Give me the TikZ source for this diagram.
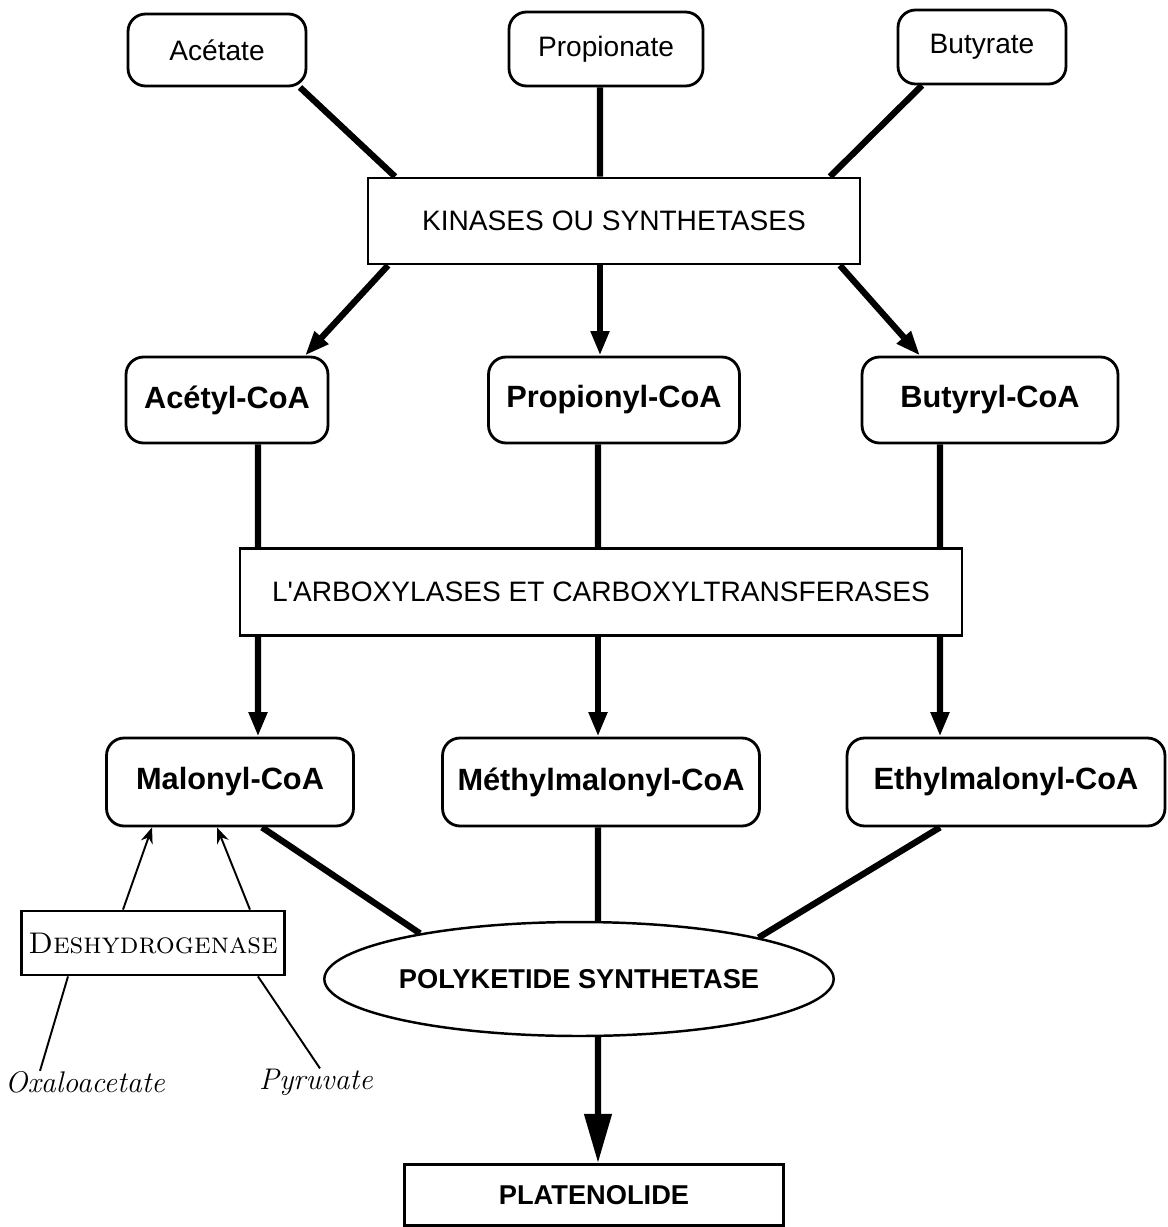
\documentclass[tikz,border=0pt]{standalone}
\usepackage{fontspec}
\newfontfamily\plotfont{Liberation Sans}
\usetikzlibrary{arrows.meta,shapes.geometric}

\begin{document}
\begin{tikzpicture}[x=0.02cm, y=-0.02cm, inner sep=0pt,
    sub/.style = {draw, rounded corners=0.35cm, line width=1.6pt, font=\plotfont\fontsize{16}{19}\selectfont},
    coa/.style = {sub, font=\plotfont\bfseries\fontsize{17.5}{21}\selectfont},
    enz/.style = {draw, line width=1.6pt, font=\plotfont\fontsize{16}{19}\selectfont},
    pks/.style = {draw, ellipse, line width=1.4pt, font=\plotfont\bfseries\fontsize{15.5}{19}\selectfont},
    handtext/.style = {font=\fontsize{17}{20}\selectfont\itshape},
    link/.style = {line width=3.6pt},
    flow/.style = {link, -{Triangle[length=14pt, width=10pt]}},
    bigflow/.style = {link, -{Triangle[length=28pt, width=15pt]}},
    handline/.style = {line width=1.1pt},
    handarrow/.style = {handline, -{Stealth[length=9pt, width=7pt]}}]
                \useasboundingbox (0,0) rectangle (1167,1227);
                \node[sub, minimum width=3.56cm, minimum height=1.44cm] (ace) at (217,50) {Acétate};
                \node[sub, minimum width=3.88cm, minimum height=1.48cm] (pro) at (606,49) {Propionate};
                \node[sub, minimum width=3.36cm, minimum height=1.48cm] (but) at (982,47) {Butyrate};
                \node[enz, minimum width=9.84cm, minimum height=1.72cm] (kin) at (614,221) {KINASES OU SYNTHETASES};
                \node[coa, minimum width=4.04cm, minimum height=1.72cm] (acecoa) at (227,400) {Acétyl-CoA};
                \node[coa, minimum width=5.02cm, minimum height=1.72cm] (procoa) at (614,400) {Propionyl-CoA};
                \node[coa, minimum width=5.12cm, minimum height=1.72cm] (butcoa) at (990,400) {Butyryl-CoA};
                \node[enz, minimum width=14.44cm, minimum height=1.74cm] (carb) at (601,592) {L'ARBOXYLASES ET CARBOXYLTRANSFERASES};
                \node[coa, minimum width=4.94cm, minimum height=1.76cm] (mal) at (230,782) {Malonyl-CoA};
                \node[coa, minimum width=6.34cm, minimum height=1.76cm] (mmal) at (601,782) {Méthylmalonyl-CoA};
                \node[coa, minimum width=6.36cm, minimum height=1.76cm] (emal) at (1006,782) {Ethylmalonyl-CoA};
                \node[enz, font=\fontsize{17}{20}\selectfont, minimum width=5.26cm, minimum height=1.28cm] (deh) at (153,943) {\textsc{Deshydrogenase}};
                \node[pks, minimum width=8.84cm, minimum height=2.28cm] (poly) at (579,979) {POLYKETIDE SYNTHETASE};
                \node[enz, font=\plotfont\bfseries\fontsize{15.5}{19}\selectfont, minimum width=7.58cm, minimum height=1.22cm] (plat) at (594,1195) {PLATENOLIDE};
                \node[handtext] (oxa) at (85,1082) {Oxaloacetate};
                \node[handtext] (pyr) at (316,1082) {Pyruvate};
                \draw[link] ([xshift=1.66cm]ace.south) -- ([xshift=-4.38cm]kin.north);
                \draw[link] ([xshift=-0.12cm]pro.south) -- ([xshift=-0.28cm]kin.north);
                \draw[link] ([xshift=-1.2cm]but.south) -- ([xshift=4.32cm]kin.north);
                \draw[flow] ([xshift=-4.52cm]kin.south) -- ([xshift=1.56cm]acecoa.north);
                \draw[flow] ([xshift=-0.28cm]kin.south) -- ([xshift=-0.28cm]procoa.north);
                \draw[flow] ([xshift=4.52cm]kin.south) -- ([xshift=-1.4cm]butcoa.north);
                \draw[link] ([xshift=0.62cm]acecoa.south) -- ([xshift=-6.86cm]carb.north);
                \draw[link] ([xshift=-0.32cm]procoa.south) -- ([xshift=-0.06cm]carb.north);
                \draw[link] ([xshift=-1cm]butcoa.south) -- ([xshift=6.78cm]carb.north);
                \draw[flow] ([xshift=-6.86cm]carb.south) -- ([xshift=0.56cm]mal.north);
                \draw[flow] ([xshift=-0.06cm]carb.south) -- ([xshift=-0.06cm]mmal.north);
                \draw[flow] ([xshift=6.78cm]carb.south) -- ([xshift=-1.32cm]emal.north);
                \draw[link] ([xshift=0.64cm]mal.south) -- (poly.164);
                \draw[link] ([xshift=-0.06cm]mmal.south) -- ([xshift=0.38cm]poly.north);
                \draw[link] ([xshift=-1.32cm]emal.south) -- (poly.13);
                \draw[bigflow] ([xshift=0.38cm]poly.south) -- ([xshift=0.08cm]plat.north);
                \draw[handarrow] ([xshift=-0.6cm]deh.north) -- ([xshift=-1.56cm]mal.south);
                \draw[handarrow] ([xshift=1.94cm]deh.north) -- ([xshift=-0.26cm]mal.south);
                \draw[handline] ([xshift=-0.9cm]oxa.north) -- ([xshift=-1.7cm]deh.south);
                \draw[handline] ([xshift=0.08cm]pyr.north) -- ([xshift=2.1cm]deh.south);
            \end{tikzpicture}
\end{document}
